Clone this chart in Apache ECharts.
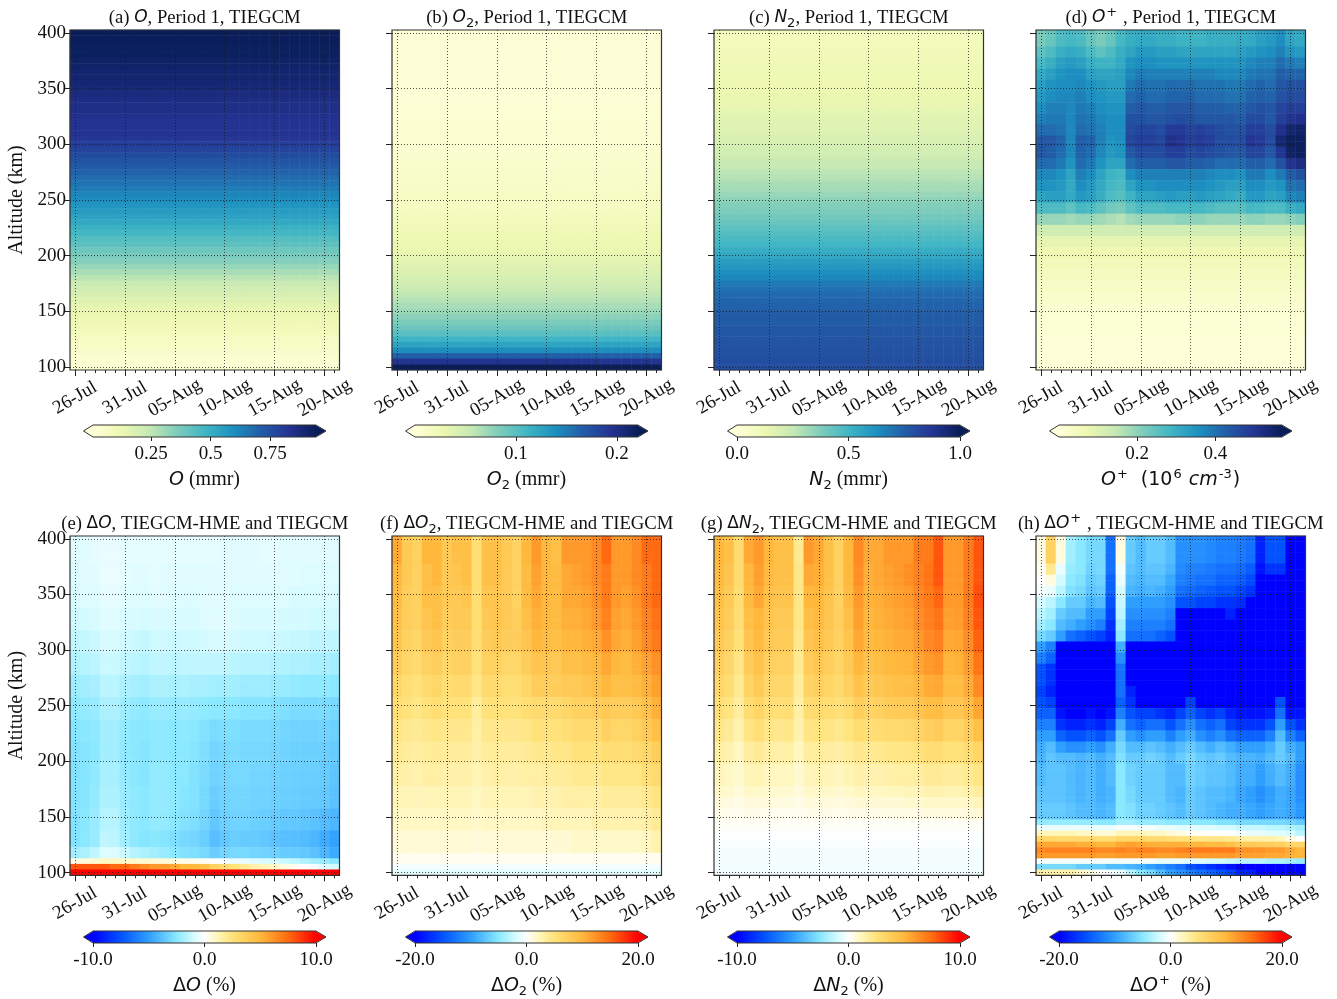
<!DOCTYPE html>
<html><head><meta charset="utf-8">
<style>html,body{margin:0;padding:0;background:#fff}#c{width:1337px;height:999px}</style>
<script src="https://cdn.jsdelivr.net/npm/echarts@6/dist/echarts.min.js"></script>
</head><body><div id="c"></div>
<script>
const days=['26-Jul','27-Jul','28-Jul','29-Jul','30-Jul','31-Jul','01-Aug','02-Aug','03-Aug','04-Aug','05-Aug','06-Aug','07-Aug','08-Aug','09-Aug','10-Aug','11-Aug','12-Aug','13-Aug','14-Aug','15-Aug','16-Aug','17-Aug','18-Aug','19-Aug','20-Aug','21-Aug'];
const altitudes=[100,105,110,115,120,125,130,135,140,145,150,155,160,165,170,175,180,185,190,195,200,205,210,215,220,225,230,235,240,245,250,255,260,265,270,275,280,285,290,295,300,305,310,315,320,325,330,335,340,345,350,355,360,365,370,375,380,385,390,395,400];
// every level list runs from the top of the panel down; a row fills from its level up to the row above it
const fineLevels=[400,395,390,385,380,375,370,365,360,355,350,345,340,335,330,325,320,315,310,305,300,295,290,285,280,275,270,265,260,255,250,245,240,235,230,225,220,215,210,205,200,195,190,185,180,175,170,165,160,155,150,145,140,135,130,125,120,115,110,105,100];
const oProfile=[.94,.94,.94,.93,.93,.92,.91,.90,.90,.89,.88,.87,.86,.85,.85,.84,.83,.83,.83,.82,.80,.78,.76,.74,.72,.70,.68,.66,.64,.62,.60,.58,.56,.54,.52,.49,.47,.44,.42,.39,.37,.35,.32,.29,.26,.23,.21,.19,.17,.15,.13,.12,.11,.10,.09,.07,.06,.05,.04,.03,.03];
const o2Profile=[.002,.002,.002,.002,.002,.0025,.0025,.0025,.003,.003,.003,.003,.003,.0035,.004,.004,.0045,.005,.0055,.006,.0065,.007,.0075,.008,.009,.010,.011,.012,.013,.014,.015,.016,.017,.019,.020,.022,.024,.026,.028,.030,.032,.035,.038,.041,.044,.048,.052,.057,.062,.067,.072,.078,.085,.092,.10,.112,.125,.14,.165,.195,.22];
const n2Profile=[.085,.09,.09,.095,.10,.105,.11,.11,.115,.12,.125,.13,.135,.14,.15,.16,.165,.17,.18,.19,.20,.21,.22,.24,.25,.27,.28,.30,.31,.33,.35,.37,.38,.40,.42,.44,.46,.48,.50,.53,.55,.58,.60,.63,.65,.68,.70,.72,.73,.74,.75,.76,.76,.77,.77,.78,.78,.79,.79,.80,.80];
const oPlusLevels=[390,380,370,360,350,340,330,320,310,300,290,280,270,260,250,240,230,220,210,200,190,180,170,160,150,130,100];
const oPlusRows=[
[.22,.24,.27,.28,.27,.24,.22,.24,.28,.30,.31,.31,.30,.30,.29,.29,.29,.30,.30,.30,.31,.31,.33,.34,.36,.32,.31],
[.25,.27,.30,.31,.30,.27,.25,.27,.30,.32,.34,.34,.33,.33,.32,.32,.32,.32,.32,.32,.33,.34,.35,.36,.38,.35,.34],
[.28,.30,.33,.34,.33,.30,.29,.29,.31,.35,.36,.36,.35,.35,.35,.35,.35,.35,.35,.35,.35,.37,.38,.38,.41,.39,.38],
[.31,.33,.35,.36,.36,.33,.32,.32,.33,.37,.39,.38,.38,.38,.38,.38,.38,.38,.37,.37,.37,.39,.40,.40,.43,.42,.42],
[.33,.35,.36,.36,.37,.35,.34,.33,.33,.39,.41,.40,.40,.41,.41,.41,.40,.40,.40,.39,.39,.41,.42,.41,.44,.45,.45],
[.34,.36,.37,.37,.38,.36,.35,.34,.34,.41,.42,.41,.41,.42,.42,.42,.41,.41,.41,.40,.40,.42,.43,.42,.45,.46,.46],
[.36,.38,.38,.37,.39,.38,.36,.35,.35,.43,.44,.43,.43,.44,.44,.44,.43,.43,.43,.42,.42,.44,.45,.44,.47,.48,.48],
[.38,.39,.39,.37,.40,.39,.37,.36,.36,.45,.45,.44,.44,.45,.46,.45,.44,.44,.44,.44,.43,.46,.46,.44,.48,.50,.51],
[.41,.41,.40,.37,.41,.40,.38,.36,.36,.46,.47,.47,.46,.49,.49,.47,.48,.47,.46,.45,.45,.48,.48,.46,.51,.54,.55],
[.44,.44,.42,.37,.43,.42,.38,.35,.36,.47,.48,.48,.47,.51,.50,.48,.49,.48,.46,.46,.46,.50,.49,.46,.54,.56,.56],
[.44,.43,.41,.37,.42,.41,.37,.34,.35,.44,.46,.46,.46,.48,.48,.46,.47,.46,.45,.44,.44,.47,.47,.44,.50,.55,.56],
[.41,.41,.39,.35,.41,.39,.35,.32,.32,.41,.43,.43,.43,.44,.44,.43,.43,.42,.41,.41,.41,.43,.43,.41,.45,.50,.52],
[.37,.37,.35,.32,.38,.36,.32,.29,.28,.36,.38,.38,.38,.38,.38,.38,.38,.37,.36,.36,.35,.39,.39,.36,.39,.43,.45],
[.35,.35,.34,.31,.36,.34,.31,.28,.27,.32,.35,.35,.36,.36,.36,.36,.36,.35,.34,.33,.33,.36,.36,.34,.35,.40,.41],
[.32,.33,.33,.31,.34,.33,.30,.27,.26,.29,.32,.32,.33,.34,.33,.33,.34,.33,.32,.31,.30,.34,.34,.32,.33,.37,.38],
[.27,.27,.27,.25,.28,.27,.25,.23,.22,.25,.27,.27,.27,.28,.28,.28,.28,.27,.26,.26,.26,.28,.28,.27,.27,.30,.31],
[.19,.19,.19,.18,.19,.19,.18,.17,.16,.18,.19,.19,.19,.19,.20,.20,.20,.19,.19,.19,.19,.20,.20,.19,.19,.20,.21],
[.125],[.085],[.068],[.055],[.045],[.035],[.025],[.018],[.01],[.005]];
const dOLevels=[380,360,340,320,300,280,260,240,220,200,180,160,140,125,115,110,105,100];
const dORows=[
[-.7,-.7,-.6,-.5,-.5,-.6,-.6,-.6,-.6,-.6,-.6,-.6,-.6,-.6,-.6,-.7,-.7,-.7,-.7,-.6,-.6,-.7,-.7,-.7,-.7,-.7,-.7],
[-.8,-.7,-.7,-.5,-.5,-.6,-.7,-.7,-.6,-.7,-.7,-.7,-.7,-.7,-.7,-.7,-.7,-.7,-.7,-.7,-.7,-.7,-.7,-.8,-.8,-.8,-.8],
[-.9,-.8,-.8,-.6,-.6,-.7,-.8,-.8,-.7,-.7,-.8,-.8,-.8,-.7,-.7,-.7,-.8,-.8,-.8,-.8,-.8,-.8,-.9,-.9,-.9,-.9,-.9],
[-1.1,-1,-.9,-.7,-.7,-.9,-.9,-1,-.9,-.9,-.9,-.9,-.9,-.8,-.7,-.7,-.8,-.9,-.9,-.9,-.9,-1,-1,-1,-1.1,-1.1,-1.1],
[-1.4,-1.3,-1.2,-.9,-.9,-1.1,-1.2,-1.3,-1.1,-1.1,-1.2,-1.1,-1.1,-1,-.9,-.9,-1,-1.1,-1.1,-1.1,-1.2,-1.2,-1.3,-1.3,-1.4,-1.4,-1.4],
[-1.7,-1.6,-1.5,-1.2,-1.2,-1.4,-1.5,-1.6,-1.4,-1.4,-1.5,-1.4,-1.4,-1.4,-1.4,-1.4,-1.5,-1.6,-1.6,-1.6,-1.7,-1.7,-1.8,-1.8,-1.9,-1.9,-2],
[-2.1,-2,-1.9,-1.5,-1.5,-1.8,-1.9,-2,-1.8,-1.8,-1.9,-1.8,-1.9,-1.9,-2,-2,-2,-2.1,-2.1,-2.1,-2.2,-2.2,-2.3,-2.4,-2.4,-2.4,-2.5],
[-2.4,-2.3,-2.2,-1.8,-1.8,-2.1,-2.3,-2.4,-2.2,-2.2,-2.3,-2.2,-2.3,-2.4,-2.5,-2.5,-2.5,-2.6,-2.6,-2.6,-2.7,-2.8,-2.9,-2.9,-2.9,-2.9,-3],
[-2.6,-2.5,-2.4,-2,-2,-2.3,-2.5,-2.5,-2.4,-2.4,-2.5,-2.4,-2.5,-2.7,-2.9,-2.8,-2.8,-2.9,-2.9,-2.9,-3,-3.1,-3.2,-3.2,-3.2,-3.2,-3.3],
[-2.7,-2.6,-2.5,-2,-2,-2.4,-2.5,-2.6,-2.4,-2.4,-2.5,-2.5,-2.6,-2.8,-3.1,-3,-2.9,-3,-3,-3,-3.1,-3.2,-3.3,-3.3,-3.3,-3.4,-3.5],
[-2.7,-2.6,-2.4,-1.9,-1.9,-2.3,-2.5,-2.6,-2.3,-2.3,-2.5,-2.5,-2.7,-2.9,-3.2,-3.1,-3,-3,-3.1,-3.1,-3.2,-3.3,-3.3,-3.4,-3.4,-3.5,-3.7],
[-2.7,-2.6,-2.3,-1.8,-1.8,-2.2,-2.4,-2.5,-2.3,-2.3,-2.4,-2.6,-2.7,-3,-3.4,-3.2,-3.1,-3.1,-3.2,-3.2,-3.3,-3.4,-3.4,-3.5,-3.5,-3.6,-3.8],
[-2.7,-2.5,-2.2,-1.6,-1.6,-2.1,-2.4,-2.5,-2.3,-2.3,-2.5,-2.7,-2.8,-3.1,-3.6,-3.3,-3.2,-3.2,-3.3,-3.4,-3.5,-3.6,-3.6,-3.7,-3.8,-4,-4.2],
[-2.7,-2.5,-2.2,-1.4,-1.5,-2,-2.4,-2.6,-2.5,-2.6,-2.8,-3,-3.1,-3.4,-3.9,-3.6,-3.4,-3.5,-3.5,-3.6,-3.8,-3.9,-3.9,-4,-4.2,-4.6,-4.9],
[-2,-1.8,-1.4,-.8,-.8,-1.2,-1.6,-1.8,-2,-2.2,-2.5,-2.7,-2.8,-3,-3.4,-3.1,-3,-3,-3.1,-3.2,-3.3,-3.5,-3.5,-3.6,-3.8,-4.2,-4.6],
[.4,.6,.8,1,1,.9,.8,.8,.7,.7,.5,.4,.3,.2,0,-.2,-.4,-.5,-.7,-.8,-1,-1.2,-1.4,-1.7,-2,-2.2,-2.5],
[8,8,8,8,7.5,7.5,7,6.5,6,6,5.5,5,5,4.5,3.5,3,2.5,2,1.5,1.2,1,.5,.3,0,-.3,-.8,-1],
[10]];
const dO2Levels=[380,360,340,320,300,280,260,240,220,200,180,160,140,120,110,105,100];
const dO2Rows=[
[11,8,7,10,10,8,9,9,5.5,9,9,8,7,10,12,10,9,12,12,12,13,15,12,12,13,15,15],
[10,8,7,9,10,8,8.5,9,5.5,9,9,8,7,9.5,11.5,10,9.5,11,11.5,12,13,14,12,12,13,14,15],
[9.5,7.5,7,9,9,8,8,8.5,5.5,8.5,8.5,8,7,9.5,11,10,9.5,11,11,11.5,12.5,14,12,11.5,12.5,14,15],
[9,7.5,7,8.5,9,7.5,8,8,5.5,8,8.5,8,7.5,9,10.5,10,9.5,10.5,10.5,11,12,13.5,11.5,11,12,13.5,14.5],
[8.5,7,6.5,8,8.5,7,7.5,7.5,5.5,7.5,8,7.5,7.5,8.5,10,9.5,9,10,10,10.5,11,12.5,11,10.5,11.5,13,14],
[7.5,6.5,6,7,7.5,6.5,7,7,5,7,7,6.5,6.5,7.5,8.5,8.5,8,9,9,9.5,10,11,10,9.5,10.5,11.5,12.5],
[6.5,5.5,5,6,6.5,5.5,6,6,4.5,6,6,5.5,5.5,6.5,7.5,7.5,7.5,8,8,8.5,9,10,9,9,9.5,10.5,11.5],
[5.5,5,4.5,5,5.5,5,5,5,3.5,5,5,5,5,5.5,6,6,6,6.5,7,7,7.5,8,7.5,7.5,8,9,10.5],
[4.5,4.2,3.8,4.2,4.5,4.2,4.2,4.2,3.2,4.2,4.2,4.2,4.2,4.5,5,5,5,5.5,6,6,6,7,6.5,6.5,7,8,9],
[3.8,3.6,3.4,3.6,3.8,3.6,3.6,3.6,3,3.6,3.6,3.6,3.6,3.8,4.2,4.2,4.5,4.5,5,5,5,5.5,5.5,5.5,6,6.5,7.5],
[3.2,3,2.8,3.2,3.2,3,3,3,2.5,3,3.2,3,3,3.2,3.2,3.6,3.6,3.6,4,4,4,4.5,4.5,4.5,4.5,5.5,6],
[2.5,2.5,2.4,2.5,2.5,2.5,2.5,2.5,2.1,2.5,2.5,2.5,2.5,2.5,2.8,2.8,2.8,3.2,3.2,3.2,3.2,3.6,3.6,3.6,3.6,4.2,4.8],
[2,2,2,2,2,2,2,2,1.7,2,2,2,2,2,2,2.4,2.4,2.4,2.4,2.4,2.8,2.8,2.8,2.8,2.8,3.2,3.8],
[1.4,1.4,1.4,1.4,1.4,1.4,1.4,1.4,1.2,1.4,1.4,1.4,1.4,1.4,1.4,1.5,1.5,1.5,1.8,1.8,1.8,1.8,1.8,1.8,1.8,2.2,2.8],
[.6],[-.5],[-1.2]];
const dN2Levels=[380,360,340,320,300,280,260,240,220,200,180,170,160,150,140,125,110,100];
const dN2Rows=[
[5,4.5,3,5.5,6,5,4.5,4.5,2,6,5.5,4.5,3.5,5,6.5,5.5,5.5,6,6,6,7,7,8,6,6,7,8],
[4.8,4.3,3,5,5.8,4.8,4.5,4.5,2.2,5.5,5.3,4.5,3.5,5,6.3,5.3,5.5,5.8,6,6.3,6.8,7.2,8,6,6,7,8],
[4.5,4,2.8,4.8,5.5,4.5,4.3,4.3,2.2,5,5,4.3,3.5,4.8,6,5.2,5.3,5.6,5.8,6,6.6,7,7.6,6,6,7,8.2],
[4.3,3.8,2.7,4.5,5,4.3,4,4,2.2,4.6,4.8,4.2,3.6,4.5,5.8,5,5.2,5.4,5.6,5.8,6.4,6.8,7.2,5.8,5.9,6.8,8],
[4,3.5,2.5,4.2,4.8,4,3.8,3.8,2.1,4.2,4.5,4,3.5,4.3,5.5,4.8,5,5.2,5.4,5.5,6,6.5,6.8,5.5,5.6,6.4,7.7],
[3.7,3.2,2.3,3.8,4.4,3.6,3.5,3.5,2,3.8,4.1,3.7,3.3,4,5,4.4,4.6,4.9,5,5.1,5.6,6,6.2,5.1,5.2,5.9,7.2],
[3.2,2.8,2,3.4,3.9,3.2,3.1,3.1,1.8,3.4,3.6,3.3,3,3.6,4.4,3.9,4.1,4.4,4.5,4.6,5,5.4,5.5,4.7,4.7,5.4,6.5],
[2.7,2.4,1.7,2.9,3.3,2.7,2.6,2.7,1.6,2.9,3,2.8,2.6,3,3.7,3.4,3.5,3.8,3.9,3.9,4.3,4.6,4.7,4.1,4.1,4.7,5.6],
[2.2,1.9,1.4,2.3,2.6,2.2,2.1,2.2,1.4,2.3,2.4,2.3,2.1,2.4,2.9,2.7,2.8,3,3,3.1,3.4,3.6,3.8,3.3,3.3,3.8,4.5],
[1.6,1.4,1,1.7,1.9,1.6,1.5,1.6,1.1,1.7,1.8,1.7,1.6,1.8,2.1,2,2.1,2.2,2.2,2.3,2.5,2.7,2.8,2.5,2.5,2.9,3.3],
[1.2,1,.8,1.2,1.3,1.1,1.1,1.1,.8,1.2,1.3,1.2,1.1,1.3,1.5,1.4,1.4,1.5,1.6,1.6,1.7,1.9,1.9,1.8,1.8,2,2.3],
[.9,.8,.6,.9,.9,.8,.8,.8,.6,.9,.9,.9,.8,.9,1.1,1,1,1.1,1.1,1.2,1.2,1.4,1.4,1.3,1.3,1.5,1.7],
[.6,.5,.4,.6,.6,.6,.5,.5,.4,.6,.6,.6,.5,.6,.7,.7,.7,.7,.7,.8,.8,.9,.9,.9,.9,1,1.2],
[.35,.3,.25,.35,.35,.3,.3,.3,.25,.35,.35,.35,.3,.35,.4,.4,.4,.4,.4,.45,.45,.5,.5,.5,.5,.6,.7],
[.15],[-.1],[-.25],[-.3]];
const dOPlusLevels=[380,370,360,350,340,330,320,310,300,290,270,260,250,240,230,220,210,200,180,165,150,145,140,135,130,125,120,115,110,105,100];
const dOPlusRows=[
[1,7,1,-4,-5,-6,-6,-13,1,-7,-8,-7,-7,-8,-11,-11,-11,-11.5,-12,-12,-12.5,-13,-18,-15,-15,-20,-20],
[.5,4,-1,-4.5,-5,-6.5,-6,-13,-.5,-7.5,-8,-7.5,-7.5,-8.5,-11.5,-12,-12,-12.5,-13,-13,-13.5,-14.5,-19,-17,-17,-20,-20],
[0,1,-2,-5,-5.5,-7,-6.5,-14,-1,-8,-8.5,-8,-8,-9.5,-12,-12.5,-13,-13,-14,-14,-14.5,-15.5,-20,-20,-20,-20,-20],
[-.5,-1,-3,-5.5,-6,-7.5,-7,-14,-2,-8.5,-9,-8.5,-9,-10,-13,-13.5,-14,-14.5,-15,-15,-16,-17,-20,-20,-20,-20,-20],
[-2,-3,-5,-7,-7,-8.5,-8,-15,-2.5,-10,-10,-10,-10,-11,-15,-15,-16,-16,-17,-17,-17.5,-20,-20,-20,-20,-20,-20],
[-3,-4,-7,-8,-8,-10,-10,-16,-3,-11,-11,-11,-11,-12,-20,-20,-20,-20,-20,-18,-20,-20,-20,-20,-20,-20,-20],
[-4,-5,-8,-9,-10,-11,-12,-17,-4,-12,-12,-12,-12,-13,-20,-20,-20,-20,-20,-20,-20,-20,-20,-20,-20,-20,-20],
[-6,-7,-10,-13,-14,-15,-16,-18,-5,-13,-13,-13,-14,-15,-20,-20,-20,-20,-20,-20,-20,-20,-20,-20,-20,-20,-20],
[-10,-12,-20,-20,-20,-20,-20,-20,-9,-20,-20,-20,-20,-20,-20,-20,-20,-20,-20,-20,-20,-20,-20,-20,-20,-20,-20],
[-12,-14,-20,-20,-20,-20,-20,-20,-11,-20,-20,-20,-20,-20,-20,-20,-20,-20,-20,-20,-20,-20,-20,-20,-20,-20,-20],
[-15,-17,-20,-20,-20,-20,-20,-20,-13,-20,-20,-20,-20,-20,-20,-20,-20,-20,-20,-20,-20,-20,-20,-20,-20,-20,-20],
[-16,-18,-20,-20,-20,-20,-20,-20,-13,-18,-20,-20,-20,-20,-20,-20,-20,-20,-20,-20,-20,-20,-20,-20,-20,-20,-20],
[-15,-16,-20,-20,-20,-20,-20,-20,-14,-17,-20,-20,-20,-20,-20,-16,-20,-20,-20,-20,-20,-20,-20,-20,-15,-20,-20],
[-14,-14,-19,-20,-20,-19,-20,-19,-12,-15,-16,-16,-17,-18,-16,-14,-16,-17,-16,-18,-19,-19,-19,-18,-13,-19,-19],
[-12,-12,-17,-18,-18,-17,-18,-16,-9,-13,-14,-13,-13,-15,-13,-11,-13,-14,-13,-16,-17,-17,-17,-15,-10,-15,-17],
[-10,-10,-14,-15,-15,-14,-15,-13,-7,-10,-11,-10,-10,-12,-10,-9,-11,-12,-11,-13,-14,-14,-14,-12,-8,-12,-14],
[-9,-8,-10,-11,-11,-10,-11,-9,-6,-8,-8,-7.5,-8,-9,-8,-7,-8,-9,-8,-9,-10,-10,-10,-9,-7,-9,-10],
[-8.5,-7.5,-8,-8,-8.5,-8,-9,-8,-5.5,-7,-7,-6.5,-7,-8,-7,-6,-7,-7.5,-7,-8,-8.5,-8.5,-9,-8,-7,-8,-10],
[-8,-7.5,-7.5,-8,-8.5,-8,-9,-8,-5,-6.5,-7,-7,-7,-8,-8,-6.5,-7,-7.5,-7.5,-8,-9,-9,-10,-9,-8,-9,-11],
[-7.5,-7.5,-7.5,-8,-8.5,-8,-9,-8.5,-5,-6,-7,-7,-7,-8,-8.5,-7,-7.5,-8,-8,-8.5,-9.5,-10,-11,-10,-9,-9.5,-11],
[-7,-7,-7,-7.5,-8,-8,-8.5,-8,-5,-5.5,-6.5,-6.5,-7,-7.5,-8,-7,-7.5,-8,-8.5,-9,-9,-9.5,-10,-9.5,-9,-9.5,-10.5],
[-4.5,-4.5,-4.5,-4.5,-4.5,-4.5,-5,-5,-4,-4,-4.5,-4.5,-4.5,-5,-5,-5,-5,-5,-5.5,-5.5,-6,-6,-6,-6,-6,-6.5,-7],
[-1,-1,-1,-1,-1,-1,-1,-1,-.5,-.5,-.5,-.5,-1,-1,-1.5,-1.5,-1.5,-1.5,-2,-2,-2.5,-2.5,-2.5,-3,-3,-3.5,-4],
[2.5,2.5,2.5,2.5,2,2,1.5,1.5,2.5,2.5,2.5,2,2,1.5,1,.5,.3,0,0,0,-.5,-1,-1,-1.5,-1.5,-2,-3],
[6.5,6.5,6,6,6,6,5.5,5.5,6.5,6.5,6.5,6,6,5.5,5,5,4.5,4.5,4.5,4,3.5,3,3,3,2.5,1,0],
[11,11,11,11,10.5,10.5,10,10,11,11.5,11,10.5,10.5,10.5,10.5,10,10,9.5,9.5,9,8,8,7.5,7.5,7,6.5,6.5],
[13,13.5,13.5,13.5,13.5,13.5,13,13,13.5,13,13.5,13.5,13,13,13.5,14,14,14,14,14,12.5,12.5,12.5,12,12,11,10],
[12,12,12,12,12,12,11.5,11.5,12,12,12,12,11.5,11.5,12,12,12,12,12,12,11.5,11.5,11.5,11,11,10.5,10],
[-.5,-.5,-.5,-.5,-.5,-.5,-.5,-.5,-.5,-.5,-.5,-.5,-1,-1,-1,-1.5,-1.5,-2,-2,-2.5,-3,-3,-3,-3.5,-3.5,-4,-4.5],
[-6,-6,-6,-6,-7,-7,-7,-8,-8,-8.5,-9,-10,-11,-12,-13,-15,-16,-17,-18,-19,-20,-20,-20,-20,-20,-20,-20],
[3,3,3,3,2,1,0,-.5,-1,-3,-5,-6,-8,-10,-11,-12,-13,-14,-15,-16,-18,-18,-20,-20,-20,-20,-20]];

const ylgnbu=['#ffffd9','#edf8b1','#c7e9b4','#7fcdbb','#41b6c4','#1d91c0','#225ea8','#253494','#081d58'];
const divergingStops=[[0,'#0000ff'],[.12,'#0050ff'],[.25,'#2f9fff'],[.375,'#8ae8ff'],[.45,'#d4fbff'],[.5,'#ffffff'],[.56,'#fff6b8'],[.625,'#ffe27a'],[.75,'#ffb83c'],[.875,'#ff6a10'],[1,'#ff0000']];
const seqStops=ylgnbu.map((c,i)=>[i/8,c]);

const panels=[
 {title:'{t|(a) }{i|O}{t|, Period 1, TIEGCM}',label:'{li|O}{lt| (mmr)}',levels:fineLevels,rows:oProfile.map(v=>[v]),min:.006,max:.943,stops:seqStops,ticks:[.25,.5,.75],tickText:['0.25','0.5','0.75']},
 {title:'{t|(b) }{i|O}{s|2}{t|, Period 1, TIEGCM}',label:'{li|O}{s|2}{lt| (mmr)}',levels:fineLevels,rows:o2Profile.map(v=>[v]),min:0,max:.221,stops:seqStops,ticks:[.1,.2],tickText:['0.1','0.2']},
 {title:'{t|(c) }{i|N}{s|2}{t|, Period 1, TIEGCM}',label:'{li|N}{s|2}{lt| (mmr)}',levels:fineLevels,rows:n2Profile.map(v=>[v]),min:0,max:1,stops:seqStops,ticks:[0,.5,1],tickText:['0.0','0.5','1.0']},
 {title:'{t|(d) }{i|O}{u|+}{t| , Period 1, TIEGCM}',label:'{li|O}{u|+}{lm|  (10}{u|6}{lm| }{li|cm}{u|-3}{lm|)}',levels:oPlusLevels,rows:oPlusRows,min:0,max:.57,stops:seqStops,ticks:[.2,.4],tickText:['0.2','0.4']},
 {title:'{t|(e) }{m|Δ}{i|O}{t|, TIEGCM-HME and TIEGCM}',label:'{lm|Δ}{li|O}{lt| (%)}',levels:dOLevels,rows:dORows,min:-10,max:10,stops:divergingStops,ticks:[-10,0,10],tickText:['-10.0','0.0','10.0']},
 {title:'{t|(f) }{m|Δ}{i|O}{s|2}{t|, TIEGCM-HME and TIEGCM}',label:'{lm|Δ}{li|O}{s|2}{lt| (%)}',levels:dO2Levels,rows:dO2Rows,min:-20,max:20,stops:divergingStops,ticks:[-20,0,20],tickText:['-20.0','0.0','20.0']},
 {title:'{t|(g) }{m|Δ}{i|N}{s|2}{t|, TIEGCM-HME and TIEGCM}',label:'{lm|Δ}{li|N}{s|2}{lt| (%)}',levels:dN2Levels,rows:dN2Rows,min:-10,max:10,stops:divergingStops,ticks:[-10,0,10],tickText:['-10.0','0.0','10.0']},
 {title:'{t|(h) }{m|Δ}{i|O}{u|+}{t| , TIEGCM-HME and TIEGCM}',label:'{lm|Δ}{li|O}{u|+}{lt|  (%)}',levels:dOPlusLevels,rows:dOPlusRows,min:-20,max:20,stops:divergingStops,ticks:[-20,0,20],tickText:['-20.0','0.0','20.0']}
];

function cells(levels,rows){
  const out=[];let top=400;
  levels.forEach((lv,i)=>{
    for(let alt=lv;alt<=top;alt+=5){
      days.forEach((d,k)=>out.push([k,altitudes.indexOf(alt),rows[i].length===1?rows[i][0]:rows[i][k]]));
    }
    top=lv-5;
  });
  return out;
}
const serif='"Liberation Serif","Times New Roman",serif';
const sans='"DejaVu Sans",sans-serif';
const base={fontWeight:'normal',color:'#111'};
const rich={
 t:{...base,fontFamily:serif,fontSize:18.7,lineHeight:24},
 i:{...base,fontFamily:sans,fontStyle:'italic',fontSize:17,lineHeight:24},
 m:{...base,fontFamily:sans,fontSize:17,lineHeight:24},
 lt:{...base,fontFamily:serif,fontSize:20,lineHeight:24},
 li:{...base,fontFamily:sans,fontStyle:'italic',fontSize:19,lineHeight:24},
 lm:{...base,fontFamily:sans,fontSize:19,lineHeight:24},
 s:{...base,fontFamily:sans,fontSize:13,verticalAlign:'bottom',lineHeight:15},
 u:{...base,fontFamily:sans,fontSize:13,verticalAlign:'top',lineHeight:15,padding:[0,1,0,1]}
};
function densify(stops){ // colours at equal steps so the visual map follows the stop positions
  const out=[];const hex=c=>[1,3,5].map(k=>parseInt(c.substr(k,2),16));
  for(let s=0;s<=40;s++){const t=s/40;let a=0;while(a<stops.length-2&&stops[a+1][0]<t)a++;
    const u=(t-stops[a][0])/(stops[a+1][0]-stops[a][0]),A=hex(stops[a][1]),B=hex(stops[a+1][1]);
    out.push('rgb('+A.map((x,j)=>Math.round(x+(B[j]-x)*u)).join(',')+')');}
  return out;
}
const lefts=[70,392,714,1036], W=269.5;
const tops=[30,536], H=[340,339.3], barTops=[425,931], barH=12;
const ink='#222';
const option={animation:false,backgroundColor:'#fff',title:[],grid:[],xAxis:[],yAxis:[],series:[],visualMap:[]};
panels.forEach((p,i)=>{
  const col=i%4,rowI=i<4?0:1,L=lefts[col];
  option.title.push({text:p.title,padding:0,left:L+W/2,top:tops[rowI]-24,textAlign:'center',textStyle:{rich,fontWeight:'normal',fontFamily:serif,fontSize:19}});
  option.grid.push({left:L,top:tops[rowI],width:W,height:H[rowI],outerBoundsMode:'none',show:true,z:6,backgroundColor:'transparent',borderColor:'#333',borderWidth:1.2});
  option.xAxis.push(
   {type:'category',gridIndex:i,data:days,position:'bottom',z:5,axisLine:{show:false},
    axisTick:{show:true,interval:4,alignWithLabel:true,length:6,lineStyle:{color:ink}},
    axisLabel:{show:true,interval:4,rotate:30,align:'center',verticalAlign:'middle',margin:28,fontFamily:serif,fontSize:19,color:'#111'},
    splitLine:{show:true,interval:4,alignWithLabel:true,lineStyle:{type:[1,2],color:'rgba(25,25,25,0.75)',width:1}}},
   {type:'category',gridIndex:i,data:days,position:'bottom',z:5,axisLine:{show:false},
    axisTick:{show:true,interval:0,alignWithLabel:true,length:3,lineStyle:{color:ink}},axisLabel:{show:false},splitLine:{show:false}},
   {type:'value',gridIndex:i+8,min:p.min,max:p.max,position:'bottom',axisLine:{show:false},splitLine:{show:false},
    axisTick:{show:true,length:4,customValues:p.ticks,lineStyle:{color:ink}},
    axisLabel:{show:true,customValues:p.ticks,margin:8,fontFamily:serif,fontSize:19,color:'#111',
      formatter:v=>p.tickText[p.ticks.findIndex(t=>Math.abs(t-v)<1e-9)]},
    name:p.label,nameLocation:'middle',nameGap:31,nameTextStyle:{rich,fontFamily:serif,fontSize:20}});
  option.yAxis.push(
   {type:'category',gridIndex:i,data:altitudes,z:5,axisLine:{show:false},
    axisTick:{show:true,interval:9,alignWithLabel:true,length:6,lineStyle:{color:ink}},
    axisLabel:{show:col===0,interval:9,margin:4,fontFamily:serif,fontSize:19,color:'#111'},
    splitLine:{show:true,interval:9,alignWithLabel:true,lineStyle:{type:[1,2],color:'rgba(25,25,25,0.75)',width:1}},
    name:col===0?'Altitude (km)':'',nameLocation:'middle',nameRotate:90,nameGap:43,nameTextStyle:{fontFamily:serif,fontSize:20,color:'#111'}},
   {type:'value',gridIndex:i+8,min:0,max:1,show:false});
  option.visualMap.push({show:false,type:'continuous',seriesIndex:i,dimension:2,min:p.min,max:p.max,inRange:{color:p.stops===seqStops?ylgnbu:densify(p.stops)}});
  option.series.push({type:'heatmap',xAxisIndex:3*i,yAxisIndex:2*i,data:cells(p.levels,p.rows),progressive:0,silent:true,emphasis:{disabled:true},itemStyle:{borderWidth:0}});
});
panels.forEach((p,i)=>{
  const col=i%4,rowI=i<4?0:1;
  option.grid.push({left:lefts[col]+23,top:barTops[rowI],width:223,height:barH,outerBoundsMode:'none'});
  option.series.push({type:'custom',xAxisIndex:3*i+2,yAxisIndex:2*i+1,clip:false,silent:true,data:[[p.min,p.max]],
    renderItem:(params,api)=>{
      const a=api.coord([api.value(0),0]),b=api.coord([api.value(1),1]);
      const grad=new echarts.graphic.LinearGradient(0,0,1,0,p.stops.map(s=>({offset:s[0],color:s[1]})));
      const midY=(a[1]+b[1])/2;
      const outline=[[a[0],b[1]],[b[0],b[1]],[b[0]+10,midY],[b[0],a[1]],[a[0],a[1]],[a[0]-9.5,midY]];
      return {type:'group',children:[
        {type:'polygon',shape:{points:[[a[0]+1,b[1]],[a[0]-9.5,midY],[a[0]+1,a[1]]]},style:{fill:p.stops[0][1]}},
        {type:'polygon',shape:{points:[[b[0]-1,b[1]],[b[0]+10,midY],[b[0]-1,a[1]]]},style:{fill:p.stops[p.stops.length-1][1]}},
        {type:'rect',shape:{x:a[0],y:b[1],width:b[0]-a[0],height:a[1]-b[1]},style:{fill:grad}},
        {type:'polygon',shape:{points:outline},style:{fill:'none',stroke:'#333',lineWidth:1}}
      ]};
    }});
});
const chart=echarts.init(document.getElementById('c'),null,{renderer:'canvas'});
chart.setOption(option);
</script></body></html>
